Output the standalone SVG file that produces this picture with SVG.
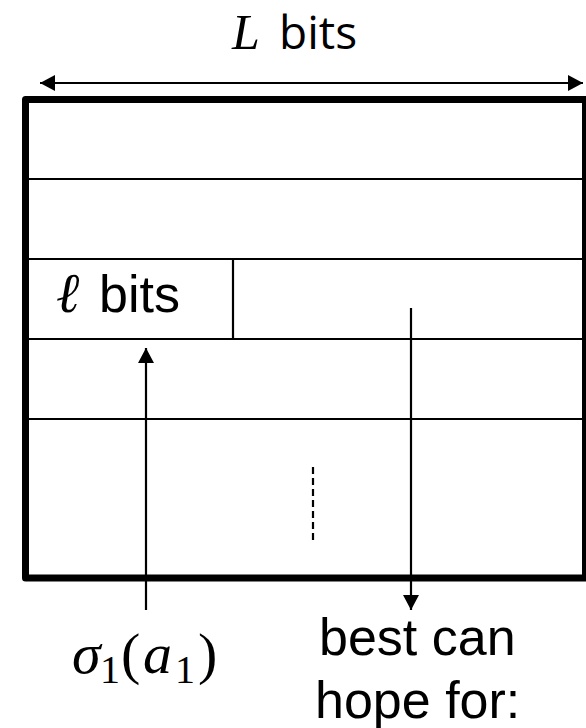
<svg xmlns="http://www.w3.org/2000/svg" width="586" height="728" viewBox="0 0 586 728">
  <style>
    .thin { stroke: #000; stroke-width: 2.2; fill: none; }
    .sans { font-family: "Liberation Sans", Arial, sans-serif; font-size: 52px; fill: #000; }
    .math { font-family: "Liberation Serif", "DejaVu Serif", serif; fill: #000; }
  </style>
  <defs>
    <marker id="arr" markerWidth="16" markerHeight="16" refX="15" refY="8" orient="auto-start-reverse" markerUnits="userSpaceOnUse">
      <path d="M0,0 L15,8 L0,16 Z" fill="#000"/>
    </marker>
  </defs>

  <g id="title">
    <text x="232" y="49" class="math" font-style="italic" font-size="50">L</text>
    <text x="279" y="49" font-family="'Open Sans', 'DejaVu Sans', sans-serif" font-size="46" fill="#000">bits</text>
  </g>

  <g id="block">
    <rect x="25.5" y="99.5" width="560" height="478.5" fill="#fff" stroke="#000" stroke-width="7" stroke-linejoin="round"/>
    <line class="thin" x1="25" y1="179" x2="586" y2="179"/>
    <line class="thin" x1="25" y1="259" x2="586" y2="259"/>
    <line class="thin" x1="25" y1="339" x2="586" y2="339"/>
    <line class="thin" x1="25" y1="419" x2="586" y2="419"/>
    <line class="thin" x1="233" y1="259" x2="233" y2="339"/>
    <line class="thin" x1="313" y1="467" x2="313" y2="542" stroke-dasharray="7 4"/>
  </g>

  <g id="cell-label">
    <text x="56" y="312" class="math" font-style="italic" font-size="56">ℓ</text>
    <text x="99" y="312" class="sans">bits</text>
  </g>

  <g id="connectors">
    <line class="thin" x1="40" y1="83" x2="583" y2="83" marker-start="url(#arr)" marker-end="url(#arr)"/>
    <line class="thin" x1="146" y1="610" x2="146" y2="348" marker-end="url(#arr)"/>
    <line class="thin" x1="411" y1="308" x2="411" y2="610" marker-end="url(#arr)"/>
  </g>

  <g id="sigma-label">
    <text class="math" font-size="58" y="673">
      <tspan x="72" font-style="italic">σ</tspan><tspan x="100" y="683" font-size="40">1</tspan><tspan x="121" y="673">(</tspan><tspan x="143" font-style="italic">a</tspan><tspan x="175" y="683" font-size="40">1</tspan><tspan x="198" y="673">)</tspan>
    </text>
  </g>

  <g id="best-label">
    <text x="319" y="655" class="sans">best can</text>
    <text x="315" y="718" class="sans">hope for:</text>
  </g>
</svg>
